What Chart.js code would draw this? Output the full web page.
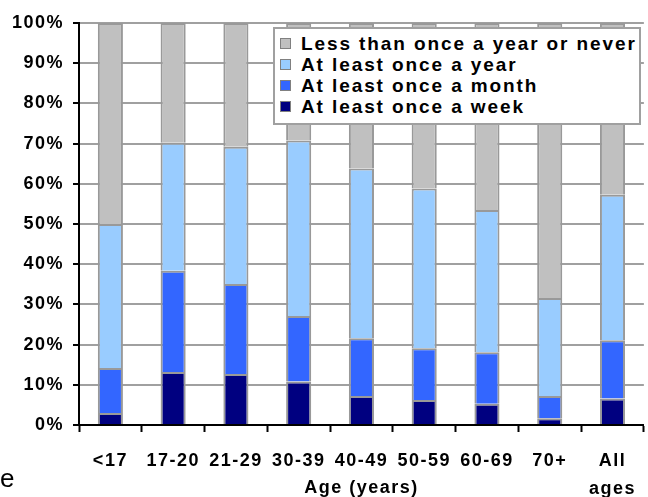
<!DOCTYPE html>
<html>
<head>
<meta charset="utf-8">
<script src="https://cdn.jsdelivr.net/npm/chart.js@4"></script>
<style>
  body { margin: 0; background: #fff; }
  #wrap { position: relative; width: 648px; height: 497px; overflow: hidden; }
  #legend {
    position: absolute; left: 273px; top: 27px; width: 368px; height: 98px;
    box-sizing: border-box; border: 2px solid #a0a0a0; background: #fff;
    padding: 4px 0 0 5px;
    font: bold 19px "Liberation Sans", Arial, sans-serif; letter-spacing: 1.9px;
    color: #000;
  }
  .row { height: 21px; line-height: 21px; white-space: nowrap; display: flex; align-items: center; }
  .sw { width: 9px; height: 9px; border: 1px solid #808080; margin-right: 10px; flex: none; }
</style>
</head>
<body>
<div id="wrap">
  <canvas id="myChart" width="648" height="497"></canvas>
  <div id="legend"></div>
</div>
<script>
// Categorias y valores (%)
const ageGroups = ["<17", "17-20", "21-29", "30-39", "40-49", "50-59", "60-69", "70+", ["All", "ages"]];
const weekly = [3, 13.2, 12.7, 10.8, 7.2, 6.2, 5.3, 1.7, 6.6];
const monthly = [11.2, 25.2, 22.4, 16.3, 14.4, 12.9, 12.8, 5.5, 14.5];
const yearly = [35.8, 31.8, 34.1, 43.7, 42.2, 39.7, 35.4, 24.4, 36.2];
const never = [50, 29.8, 30.8, 29.2, 36.2, 41.2, 46.5, 68.4, 42.7];
const yTicks = [0, 10, 20, 30, 40, 50, 60, 70, 80, 90, 100];

const seriesNames = ["At least once a week", "At least once a month", "At least once a year", "Less than once a year or never"];
const seriesColors = ["#000080", "#3366ff", "#99ccff", "#c0c0c0"];

const datasets = [weekly, monthly, yearly, never].map((vals, i) => ({
    label: seriesNames[i],
    data: vals,
    backgroundColor: seriesColors[i],
    borderColor: "#999999",
    borderWidth: 2,
    categoryPercentage: 1,
    barPercentage: 0.4,
}));

// Leyenda en HTML (orden inverso, como en el original)
const legendBox = document.getElementById("legend");
for (let i = seriesNames.length - 1; i >= 0; i--) {
    const row = document.createElement("div");
    row.className = "row";
    row.innerHTML = `<span class="sw" style="background:${seriesColors[i]}"></span><span>${seriesNames[i]}</span>`;
    legendBox.appendChild(row);
}

const fontFam = "'Liberation Sans', Arial, sans-serif";

// Espaciado de letras y la "e" cortada abajo a la izquierda
const extrasPlugin = {
    id: "extras",
    beforeDraw(chart) {
        chart.ctx.letterSpacing = "1.5px";
    },
    afterDraw(chart) {
        const ctx = chart.ctx;
        ctx.save();
        ctx.letterSpacing = "0px";
        ctx.font = "26px " + fontFam;
        ctx.fillStyle = "#000";
        ctx.textBaseline = "alphabetic";
        ctx.fillText("e", 0, 487);
        ctx.restore();
    },
};

new Chart(document.getElementById("myChart"), {
    type: "bar",
    data: { labels: ageGroups, datasets: datasets },
    plugins: [extrasPlugin],
    options: {
        responsive: false,
        devicePixelRatio: 1,
        animation: false,
        layout: { padding: { top: 23, right: 0, bottom: 0, left: 0 } },
        plugins: { legend: { display: false }, tooltip: { enabled: false } },
        scales: {
            x: {
                stacked: true,
                afterFit: (scale) => { scale.height = 72; },
                border: { color: "#000", width: 2 },
                grid: {
                    display: true, drawOnChartArea: false, drawTicks: true, offset: true,
                    tickLength: 7, tickColor: "#000", tickWidth: 2,
                },
                ticks: {
                    color: "#000", padding: 15, maxRotation: 0, autoSkip: false,
                    font: { family: fontFam, size: 18, weight: "bold", lineHeight: 1.55 },
                },
                title: {
                    display: true, text: "Age (years)", color: "#000",
                    padding: { top: 0, bottom: 0 },
                    font: { family: fontFam, size: 18, weight: "bold", lineHeight: 1.0 },
                },
            },
            y: {
                stacked: true,
                min: 0,
                max: 100,
                afterFit: (scale) => { scale.width = 79; },
                afterBuildTicks: (scale) => { scale.ticks = yTicks.map((v) => ({ value: v })); },
                border: { color: "#000", width: 2 },
                grid: { color: "#a0a0a0", lineWidth: 2, tickColor: "#000", tickLength: 6, tickWidth: 2 },
                ticks: {
                    color: "#000", padding: 9,
                    callback: (v) => v + "%",
                    font: { family: fontFam, size: 18, weight: "bold" },
                },
            },
        },
    },
});
</script>
</body>
</html>
